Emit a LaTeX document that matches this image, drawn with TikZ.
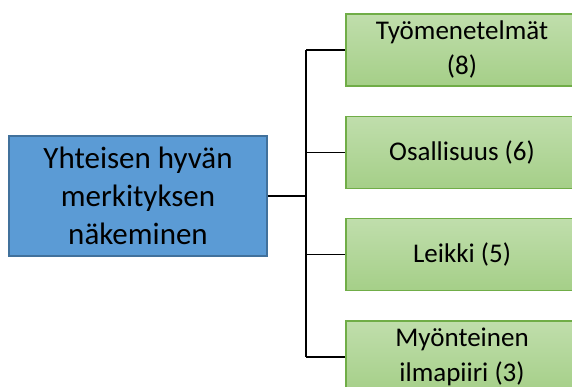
\documentclass[tikz,border=0pt]{standalone}
\usepackage{fontspec}
\setmainfont{Carlito}
\usetikzlibrary{positioning}

\definecolor{rootfill}{HTML}{5B9BD5}
\definecolor{rootline}{HTML}{41719C}
\definecolor{leaftop}{HTML}{C0DEAC}
\definecolor{leafbot}{HTML}{A5CF88}
\definecolor{leafline}{HTML}{70AD47}

\begin{document}
\begin{tikzpicture}[node distance=102.3pt,on grid,
    rootbox/.style={draw=rootline,line width=1.5pt,fill=rootfill,
        minimum width=258pt,minimum height=120pt,align=center,
        font=\fontsize{31}{38}\selectfont},
    leafbox/.style={draw=leafline,line width=1.2pt,top color=leaftop,bottom color=leafbot,
        minimum width=232pt,minimum height=72pt,align=center,
        font=\fontsize{27}{35}\selectfont},
    link/.style={line width=1.3pt}]
    \useasboundingbox (0pt,0pt) rectangle (572pt,-387pt);
    \node[rootbox] (root) at (138pt,-196pt) {Yhteisen hyvän\\merkityksen\\näkeminen};
    \node[leafbox] (tyo) at (462pt,-50pt) {Työmenetelmät\\(8)};
    \node[leafbox] (osa) [below=of tyo] {Osallisuus (6)};
    \node[leafbox] (lei) [below=of osa] {Leikki (5)};
    \node[leafbox] (myo) [below=of lei] {Myönteinen\\ilmapiiri (3)};
    \coordinate (fork) at (306pt,-196pt);
    \draw[link,line width=1.8pt] (root.east) -- (fork);
    \draw[link] (fork |- tyo) -- (fork |- myo);
    \foreach \leaf in {tyo,osa,lei,myo}
        \draw[link] (fork |- \leaf) -- (\leaf.west);
\end{tikzpicture}
\end{document}
